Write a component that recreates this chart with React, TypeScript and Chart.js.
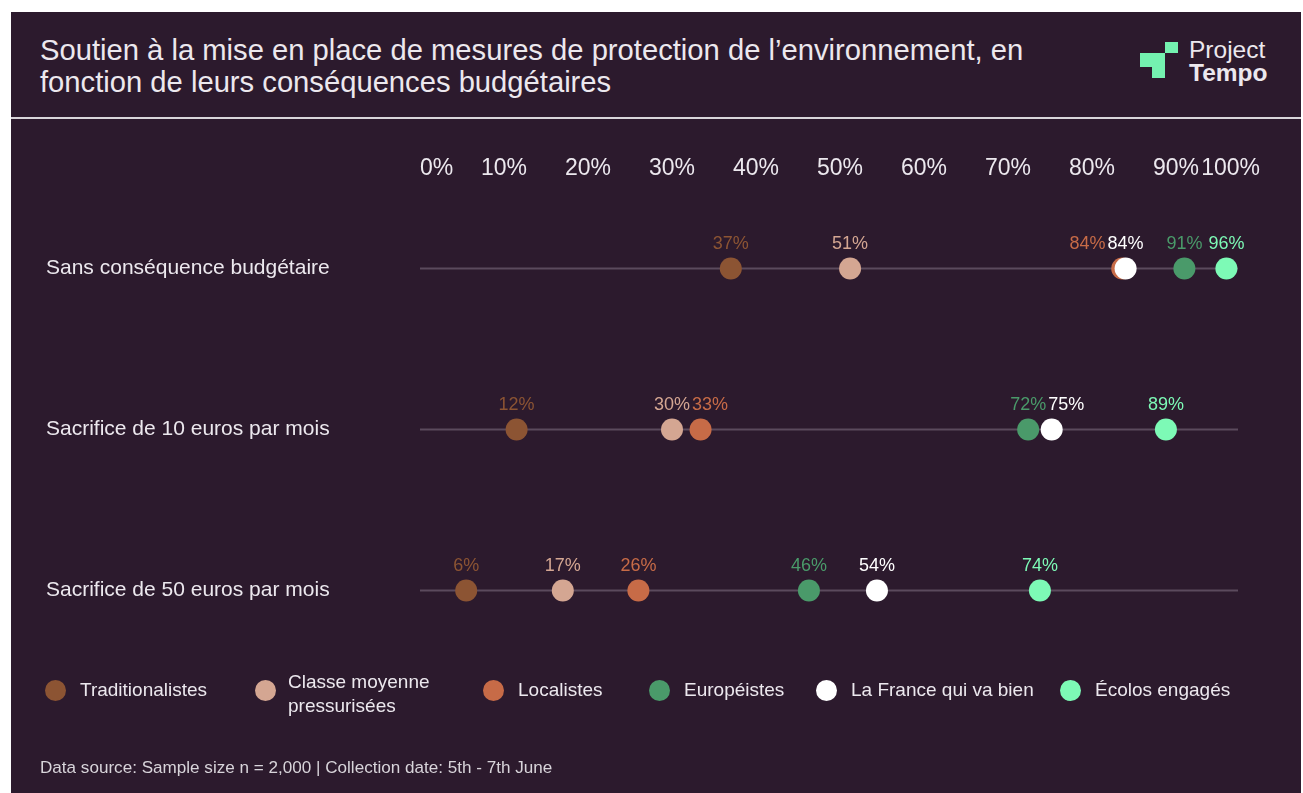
import React, { useEffect, useRef } from "react";
import { Chart, registerables } from "chart.js";

Chart.register(...registerables);

const categories = [
  "Sans conséquence budgétaire",
  "Sacrifice de 10 euros par mois",
  "Sacrifice de 50 euros par mois",
];
const seriesNames = [
  "Traditionalistes",
  "Classe moyenne pressurisées",
  "Localistes",
  "Européistes",
  "La France qui va bien",
  "Écolos engagés",
];
const traditionalistes = [37, 11.5, 5.5];
const classeMoyenne = [51.2, 30, 17];
const localistes = [83.6, 33.4, 26];
const europeistes = [91, 72.4, 46.3];
const franceQuiVaBien = [84, 75.2, 54.4];
const ecolosEngages = [96, 88.8, 73.8];
const seriesValues = [traditionalistes, classeMoyenne, localistes, europeistes, franceQuiVaBien, ecolosEngages];
const seriesColors = ["#8c5433", "#d4a692", "#c76b47", "#4a9a6a", "#ffffff", "#7dfab6"];
const xTickValues = [0, 10, 20, 30, 40, 50, 60, 70, 80, 90, 100];

const FONT = '"Liberation Sans", Arial, Helvetica, sans-serif';
const BG = "#2c1a2d";
const TEXT = "#ece8ee";

const legendLefts = [45, 255, 483, 649, 816, 1060];

const pointLabelPlugin = {
  id: "pointLabels",
  afterDatasetsDraw(chart: any) {
    const ctx = chart.ctx;
    ctx.save();
    ctx.font = `18px ${FONT}`;
    ctx.textAlign = "center";
    ctx.textBaseline = "middle";
    const gap = 2;
    categories.forEach((_, ri) => {
      const items: any[] = [];
      chart.data.datasets.forEach((ds: any, di: number) => {
        const el = chart.getDatasetMeta(di).data[ri];
        if (!el) return;
        const text = Math.round(ds.data[ri].x) + "%";
        items.push({ x: el.x, y: el.y, lx: el.x, text, w: ctx.measureText(text).width, color: ds.labelColor });
      });
      items.sort((a, b) => a.x - b.x);
      for (let i = 1; i < items.length; i++) {
        const a = items[i - 1];
        const b = items[i];
        const need = (a.w + b.w) / 2 + gap;
        if (b.lx - a.lx < need) {
          const next = items[i + 1];
          const pushed = a.lx + need;
          if (next && pushed + b.w / 2 + gap > next.lx - next.w / 2) {
            a.lx = b.lx - need;
          } else {
            b.lx = pushed;
          }
        }
      }
      items.forEach((it) => {
        ctx.fillStyle = it.color;
        ctx.fillText(it.text, it.lx, it.y - 24);
      });
    });
    ctx.restore();
  },
};

const rowLinePlugin = {
  id: "rowLines",
  beforeDatasetsDraw(chart: any) {
    const ctx = chart.ctx;
    const xs = chart.scales.x;
    const ys = chart.scales.y;
    ctx.save();
    ctx.strokeStyle = "#5b4a5d";
    ctx.lineWidth = 2;
    categories.forEach((_, i) => {
      const y = ys.getPixelForValue(i);
      ctx.beginPath();
      ctx.moveTo(xs.left, y);
      ctx.lineTo(xs.right - 22, y);
      ctx.stroke();
    });
    ctx.restore();
  },
};

export default function App() {
  const canvasRef = useRef<HTMLCanvasElement | null>(null);

  useEffect(() => {
    const canvas = canvasRef.current;
    if (!canvas) return;
    const n = seriesNames.length;
    const chart = new Chart(canvas, {
      type: "scatter",
      data: {
        datasets: seriesNames.map((name, di) => ({
          label: name,
          data: categories.map((c, ri) => ({ x: seriesValues[di][ri], y: c })),
          backgroundColor: seriesColors[di],
          borderColor: seriesColors[di],
          labelColor: seriesColors[di],
          pointRadius: 11,
          pointHoverRadius: 11,
          borderWidth: 0,
          order: n - di,
        })) as any,
      },
      options: {
        responsive: false,
        animation: false,
        events: [],
        layout: { padding: { left: 46, right: 43, top: 128, bottom: 122 } },
        plugins: { legend: { display: false }, tooltip: { enabled: false } },
        scales: {
          x: {
            type: "linear",
            position: "top",
            min: 0,
            max: 100,
            afterBuildTicks(scale: any) {
              scale.ticks = xTickValues.map((v) => ({ value: v }));
            },
            afterFit(scale: any) {
              scale.height = 60;
            },
            grid: { display: false },
            border: { display: false },
            ticks: {
              align: "inner",
              padding: -2,
              color: TEXT,
              font: { family: FONT, size: 23 },
              callback: (v: any) => v + "%",
            },
          },
          y: {
            type: "category",
            labels: categories,
            offset: true,
            afterFit(scale: any) {
              scale.width = 374;
            },
            grid: { display: false },
            border: { display: false },
            ticks: {
              crossAlign: "far",
              color: TEXT,
              font: { family: FONT, size: 21 },
            },
          },
        },
      },
      plugins: [rowLinePlugin, pointLabelPlugin],
    });
    return () => chart.destroy();
  }, []);

  return (
    <div style={{ position: "fixed", inset: 0, background: "#ffffff", overflow: "hidden", fontFamily: FONT }}>
      <div style={{ position: "absolute", left: 11, top: 12, right: 2, bottom: 0, background: BG }} />
      <div
        style={{
          position: "absolute",
          left: 40,
          top: 34,
          fontSize: 29.2,
          lineHeight: "32px",
          color: TEXT,
          whiteSpace: "nowrap",
        }}
      >
        Soutien à la mise en place de mesures de protection de l’environnement, en
        <br />
        fonction de leurs conséquences budgétaires
      </div>
      <div style={{ position: "absolute", left: 1165, top: 42, width: 13, height: 11, background: "#74f2b0" }} />
      <div style={{ position: "absolute", left: 1140, top: 53, width: 25, height: 14, background: "#74f2b0" }} />
      <div style={{ position: "absolute", left: 1152, top: 67, width: 13, height: 11, background: "#74f2b0" }} />
      <div style={{ position: "absolute", left: 1189, top: 38, fontSize: 24.5, lineHeight: "23px", color: TEXT }}>
        Project
        <br />
        <span style={{ fontWeight: 700 }}>Tempo</span>
      </div>
      <div style={{ position: "absolute", left: 11, right: 2, top: 117, height: 2, background: "#d9d5da" }} />
      <canvas
        ref={canvasRef}
        width={1303}
        height={793}
        style={{ position: "absolute", left: 0, top: 0, width: 1303, height: 793 }}
      />
      {seriesNames.map((name, i) => (
        <div key={name} style={{ position: "absolute", left: legendLefts[i], top: 690, width: 0, height: 0 }}>
          <div
            style={{
              position: "absolute",
              left: 0,
              top: -10.5,
              width: 21,
              height: 21,
              borderRadius: "50%",
              background: seriesColors[i],
            }}
          />
          <div
            style={{
              position: "absolute",
              left: i === 1 ? 33 : 35,
              top: i === 1 ? 4 : 0,
              transform: "translateY(-50%)",
              fontSize: 19,
              lineHeight: "24px",
              color: TEXT,
              width: i === 1 ? 160 : "auto",
              whiteSpace: i === 1 ? "normal" : "nowrap",
            }}
          >
            {name}
          </div>
        </div>
      ))}
      <div style={{ position: "absolute", left: 40, top: 758, fontSize: 17.1, lineHeight: "20px", color: "#d8d4da" }}>
        Data source: Sample size n = 2,000 | Collection date: 5th - 7th June
      </div>
    </div>
  );
}
